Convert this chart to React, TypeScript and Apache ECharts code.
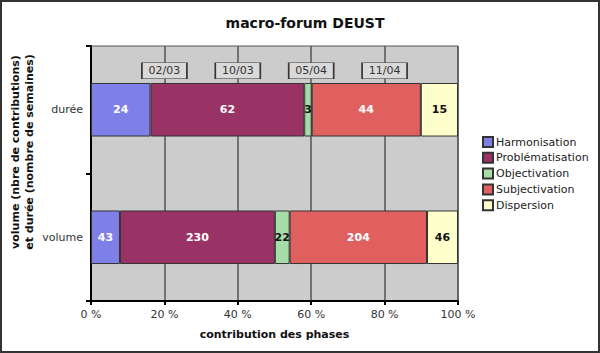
import React, { useEffect, useRef } from "react";
import * as echarts from "echarts";

const categories = ["durée", "volume"];
const seriesNames = ["Harmonisation", "Problématisation", "Objectivation", "Subjectivation", "Dispersion"];
const harmonisation = [24, 43];
const problematisation = [62, 230];
const objectivation = [3, 22];
const subjectivation = [44, 204];
const dispersion = [15, 46];
const xTicks = [0, 20, 40, 60, 80, 100];
const dateLabels = ["02/03", "10/03", "05/04", "11/04"];
const datePositions = [20, 40, 60, 80];
const yAxisTitle = ["volume (nbre de contributions)", "et durée (nombre de semaines)"];

const colors = ["#7f7fe8", "#993366", "#a6dca6", "#e06060", "#ffffcc"];
const labelColors = ["#ffffff", "#ffffff", "#111111", "#ffffff", "#111111"];
const FONT = "DejaVu Sans";

export default function App() {
  const ref = useRef<HTMLDivElement>(null);
  useEffect(() => {
    document.body.style.margin = "0";
    const chart = echarts.init(ref.current!, null, { renderer: "svg" });
    const raw = [harmonisation, problematisation, objectivation, subjectivation, dispersion];
    const totals = categories.map((_, i) => raw.reduce((s, arr) => s + arr[i], 0));
    const series: any[] = raw.map((arr, k) => ({
      name: seriesNames[k],
      type: "bar",
      stack: "total",
      barWidth: "42%",
      data: arr.map((v, i) => ({ value: (v / totals[i]) * 100, raw: v })),
      itemStyle: { color: colors[k], borderColor: "#333", borderWidth: 1 },
      label: {
        show: true,
        position: "inside",
        color: labelColors[k],
        fontFamily: FONT,
        fontWeight: "bold",
        fontSize: 11,
        formatter: (p: any) => String(p.data.raw),
      },
      emphasis: { disabled: true },
    }));
    series[0].markPoint = {
      symbol: "rect",
      symbolSize: [45, 16],
      symbolOffset: [0, -39],
      itemStyle: { color: "#d9d9d9", borderColor: "#333", borderWidth: 1 },
      label: { show: true, color: "#333", fontFamily: FONT, fontSize: 11, formatter: "{b}" },
      data: dateLabels.map((d, i) => ({ name: d, coord: [datePositions[i], categories[0]] })),
    };
    chart.setOption({
      animation: false,
      title: {
        text: "macro-forum DEUST",
        left: 300,
        textAlign: "center",
        top: 11,
        textStyle: { fontFamily: FONT, fontWeight: "bold", fontSize: 14, color: "#111" },
      },
      legend: {
        orient: "vertical",
        left: 482,
        top: 136,
        padding: 0,
        itemWidth: 10,
        itemHeight: 10,
        itemGap: 3.8,
        icon: "rect",
        textStyle: { fontFamily: FONT, fontSize: 11, color: "#222", padding: [0, 0, 0, -2] },
        data: seriesNames,
      },
      grid: {
        left: 91,
        right: 142,
        top: 46,
        bottom: 52,
        outerBoundsMode: "none",
        show: true,
        backgroundColor: "#cccccc",
        borderColor: "#555",
        borderWidth: 1,
      },
      xAxis: {
        type: "value",
        min: 0,
        max: 100,
        interval: 20,
        name: "contribution des phases",
        nameLocation: "middle",
        nameGap: 28,
        nameTextStyle: { fontFamily: FONT, fontWeight: "bold", fontSize: 11, color: "#111" },
        axisLine: { show: true, lineStyle: { color: "#000", width: 2 } },
        axisTick: { show: true, length: 4, lineStyle: { color: "#000", width: 2 } },
        axisLabel: { formatter: (v: number) => (xTicks.includes(v) ? v + " %" : ""), fontFamily: FONT, fontSize: 11, color: "#333", margin: 8 },
        splitLine: { show: true, lineStyle: { color: "#555", width: 1.5 } },
      },
      yAxis: {
        type: "category",
        data: categories,
        inverse: true,
        axisLine: { show: true, lineStyle: { color: "#000", width: 2 } },
        axisTick: { show: true, length: 5, lineStyle: { color: "#000", width: 2 } },
        axisLabel: { fontFamily: FONT, fontSize: 11, color: "#333", margin: 8 },
        splitLine: { show: false },
      },
      graphic: [
        {
          type: "rect",
          shape: { x: 1, y: 1, width: 598, height: 351 },
          style: { fill: "none", stroke: "#333", lineWidth: 2 },
          silent: true,
        },
        {
          type: "text",
          x: 22,
          y: 152,
          rotation: Math.PI / 2,
          silent: true,
          style: {
            text: yAxisTitle.join("\n"),
            fontFamily: FONT,
            fontWeight: "bold",
            fontSize: 11,
            lineHeight: 14,
            fill: "#111",
            align: "center",
            verticalAlign: "middle",
          },
        },
      ],
      series,
    });
    return () => chart.dispose();
  }, []);
  return <div ref={ref} style={{ width: 600, height: 353, background: "#fff" }} />;
}
